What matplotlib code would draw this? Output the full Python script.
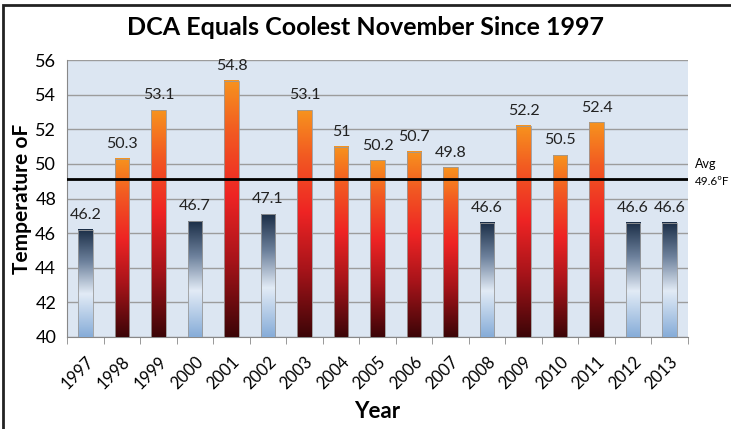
import numpy as np
import matplotlib.pyplot as plt
from matplotlib.colors import LinearSegmentedColormap
from matplotlib.patches import Rectangle

plt.rcParams['font.family'] = ['Lato', 'DejaVu Sans']

years = ['1997', '1998', '1999', '2000', '2001', '2002', '2003', '2004', '2005',
         '2006', '2007', '2008', '2009', '2010', '2011', '2012', '2013']
temps = [46.2, 50.3, 53.1, 46.7, 54.8, 47.1, 53.1, 51, 50.2,
         50.7, 49.8, 46.6, 52.2, 50.5, 52.4, 46.6, 46.6]
labels = ['46.2', '50.3', '53.1', '46.7', '54.8', '47.1', '53.1', '51', '50.2',
          '50.7', '49.8', '46.6', '52.2', '50.5', '52.4', '46.6', '46.6']
avg_label = 49.6
avg_line = 49.1

warm = LinearSegmentedColormap.from_list('warm', [
    (0.0, '#3c0507'), (0.3, '#a8141a'), (0.55, '#ee2424'), (0.8, '#f25a22'), (1.0, '#f7931e')])
cool = LinearSegmentedColormap.from_list('cool', [
    (0.0, '#86acd8'), (0.4, '#e2ebf6'), (0.7, '#6d819c'), (1.0, '#1b2e47')])

fig = plt.figure(figsize=(7.31, 4.29), dpi=100)
ax = fig.add_axes([0.092, 0.2145, 0.849, 0.6455])
ax.set_facecolor('#dce6f2')

x = np.arange(len(years))
ax.set_xlim(-0.5, len(years) - 0.5)
ax.set_ylim(40, 56)

bars = ax.bar(x, [t - 40 for t in temps], bottom=40, width=0.4, color='none', zorder=3)
grad = np.linspace(0, 1, 256).reshape(-1, 1)
for b, t, lab in zip(bars, temps, labels):
    cmap = warm if t > avg_label else cool
    x0, y0 = b.get_x(), b.get_y()
    ax.imshow(grad, cmap=cmap, origin='lower', aspect='auto', zorder=3,
              extent=(x0, x0 + b.get_width(), y0, y0 + b.get_height()))
    ax.add_patch(Rectangle((x0, y0), b.get_width(), b.get_height(), fill=False,
                           edgecolor='#9a9a9a', linewidth=0.6, zorder=4))
    ax.text(b.get_x() + b.get_width() / 2, t + 0.45, lab, ha='center', va='bottom',
            fontsize=11.5, color='#222222', zorder=5)

ax.axhline(avg_line, color='black', linewidth=2, zorder=4)
ax.text(1.012, (avg_line + 0.9 - 40) / 16, 'Avg', transform=ax.transAxes, fontsize=9,
        ha='left', va='center', clip_on=False)
ax.text(1.012, (avg_line - 0.1 - 40) / 16, '49.6ºF', transform=ax.transAxes, fontsize=8.5,
        ha='left', va='center', clip_on=False)

ax.set_yticks(range(40, 57, 2))
ax.yaxis.grid(True, color='#9c9c9c', linewidth=1)
ax.set_axisbelow(True)
ax.tick_params(axis='y', length=0, labelsize=13, pad=8)

ax.set_xticks(x)
ax.set_xticklabels(years, rotation=45, ha='right', rotation_mode='anchor', fontsize=12)
ax.tick_params(axis='x', which='major', length=0, pad=12)
ax.set_xticks(np.arange(-0.5, len(years), 1), minor=True)
ax.tick_params(axis='x', which='minor', length=5, color='#888888')

for s in ['top', 'right']:
    ax.spines[s].set_visible(False)
ax.spines['left'].set_color('#888888')
ax.spines['bottom'].set_color('#888888')

ax.set_ylabel('Temperature oF', fontsize=15, fontweight='bold', labelpad=2)
ax.set_xlabel('Year', fontsize=16, fontweight='bold', labelpad=6)
fig.text(0.5, 0.935, 'DCA Equals Coolest November Since 1997', ha='center', va='center',
         fontsize=18, fontweight='bold')

fig.patches.append(Rectangle((0.004, -0.5), 2, 0.5 + 0.988, transform=fig.transFigure,
                             fill=False, edgecolor='#222222', linewidth=2))

fig.savefig('out.png', dpi=100)
